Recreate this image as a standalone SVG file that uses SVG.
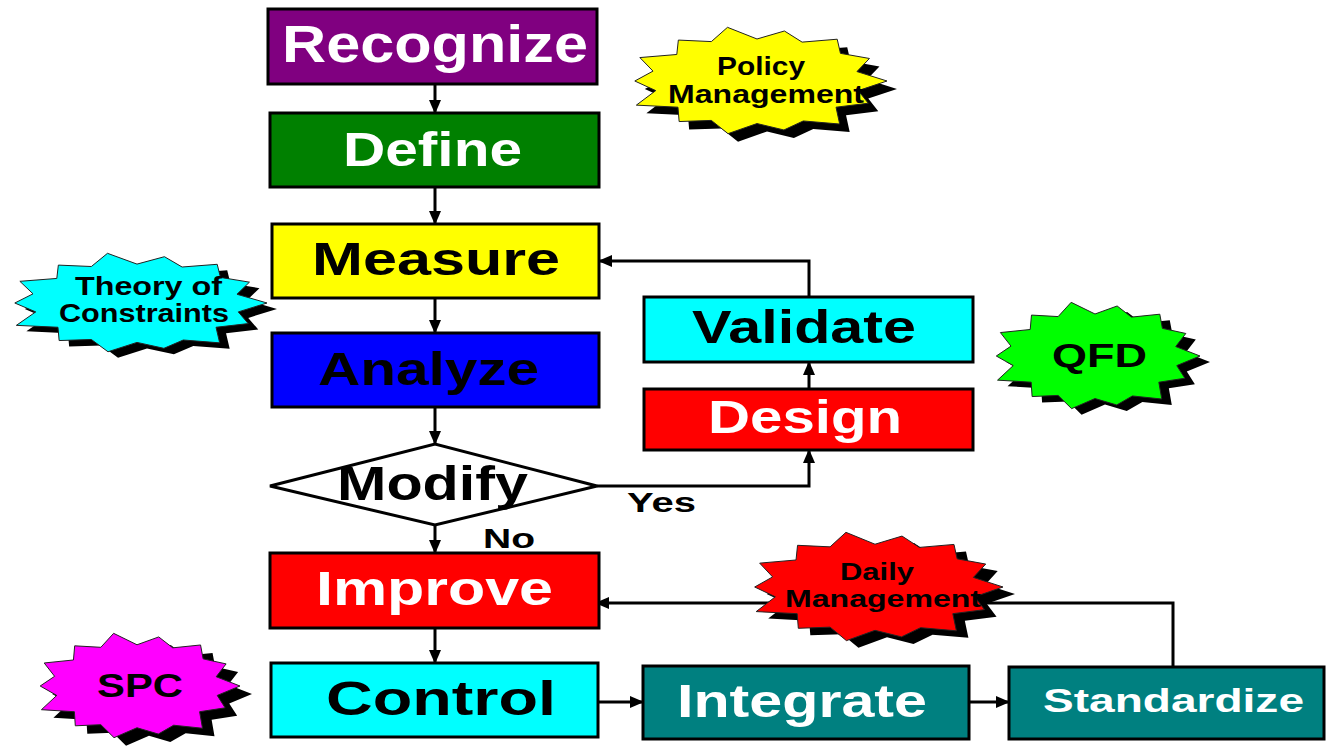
<svg xmlns="http://www.w3.org/2000/svg" xmlns:xlink="http://www.w3.org/1999/xlink" width="1326" height="749" viewBox="0 0 1326 749">
<style>
.box{stroke:#000;stroke-width:3}
.t{font-family:"Liberation Sans",Arial,sans-serif;font-weight:bold;text-anchor:middle}
.w{fill:#fff}
.k{fill:#000}
.conn{fill:none;stroke:#000;stroke-width:3}
.sh{fill:#000}
.bs{stroke:#222;stroke-width:1}
</style>
<defs>
<marker id="ah" markerUnits="userSpaceOnUse" markerWidth="14" markerHeight="12" refX="13" refY="6" orient="auto">
<path d="M0,0 L14,6 L0,12 z" fill="#000"/>
</marker>
<polygon id="burst" vector-effect="non-scaling-stroke" points="1,0 .779,.178 .856,.412 .608,.485 .636,.797 .356,.74 .207,.907 0,.788 -.223,.975 -.351,.73 -.599,.751 -.608,.485 -.928,.447 -.779,.178 -.94,0 -.8,-.183 -.901,-.434 -.617,-.491 -.605,-.758 -.351,-.73 -.227,-.994 0,-.778 .211,-.926 .347,-.72 .617,-.774 .642,-.512 .865,-.417 .769,-.175"/>
</defs>
<rect width="1326" height="749" fill="#fff"/>

<g id="connectors">
<path class="conn" d="M435,84 V113" marker-end="url(#ah)"/>
<path class="conn" d="M435,187 V224" marker-end="url(#ah)"/>
<path class="conn" d="M435,298 V333" marker-end="url(#ah)"/>
<path class="conn" d="M435,407 V444" marker-end="url(#ah)"/>
<path class="conn" d="M435,525 V553" marker-end="url(#ah)"/>
<path class="conn" d="M435,628 V663" marker-end="url(#ah)"/>
<path class="conn" d="M597,486 H809 V450" marker-end="url(#ah)"/>
<path class="conn" d="M809,389 V362" marker-end="url(#ah)"/>
<path class="conn" d="M809,297 V261 H599" marker-end="url(#ah)"/>
<path class="conn" d="M1173,667 V603 H596" marker-end="url(#ah)"/>
<path class="conn" d="M599,702 H643" marker-end="url(#ah)"/>
<path class="conn" d="M969,702 H1009" marker-end="url(#ah)"/>
<text class="t k" x="661.5" y="512" font-size="28" textLength="69" lengthAdjust="spacingAndGlyphs">Yes</text>
<text class="t k" x="509" y="548" font-size="27" textLength="52" lengthAdjust="spacingAndGlyphs">No</text>
</g>

<g id="recognize">
<rect class="box" x="268" y="9" width="329" height="75" fill="#800080"/>
<text class="t w" x="435" y="62" font-size="51" textLength="306" lengthAdjust="spacingAndGlyphs">Recognize</text>
</g>
<g id="define">
<rect class="box" x="270" y="113" width="329" height="74" fill="#008000"/>
<text class="t w" x="432.5" y="166" font-size="49" textLength="179" lengthAdjust="spacingAndGlyphs">Define</text>
</g>
<g id="measure">
<rect class="box" x="272" y="224" width="327" height="74" fill="#ffff00"/>
<text class="t k" x="436" y="275" font-size="47" textLength="248" lengthAdjust="spacingAndGlyphs">Measure</text>
</g>
<g id="analyze">
<rect class="box" x="272" y="333" width="327" height="74" fill="#0000ff"/>
<text class="t k" x="428.5" y="385" font-size="47" textLength="221" lengthAdjust="spacingAndGlyphs">Analyze</text>
</g>
<g id="modify">
<polygon class="box" points="270,486 435,444 597,486 435,525" fill="#fff"/>
<text class="t k" x="432.5" y="500" font-size="49" textLength="191" lengthAdjust="spacingAndGlyphs">Modify</text>
</g>
<g id="improve">
<rect class="box" x="270" y="553" width="329" height="75" fill="#ff0000"/>
<text class="t w" x="434.5" y="605" font-size="49" textLength="237" lengthAdjust="spacingAndGlyphs">Improve</text>
</g>
<g id="control">
<rect class="box" x="271" y="663" width="327" height="74" fill="#00ffff"/>
<text class="t k" x="441" y="715" font-size="49" textLength="230" lengthAdjust="spacingAndGlyphs">Control</text>
</g>
<g id="validate">
<rect class="box" x="644" y="297" width="329" height="65" fill="#00ffff"/>
<text class="t k" x="804" y="343" font-size="47" textLength="224" lengthAdjust="spacingAndGlyphs">Validate</text>
</g>
<g id="design">
<rect class="box" x="644" y="389" width="329" height="61" fill="#ff0000"/>
<text class="t w" x="805" y="433" font-size="47" textLength="194" lengthAdjust="spacingAndGlyphs">Design</text>
</g>
<g id="integrate">
<rect class="box" x="643" y="666" width="326" height="73" fill="#008080"/>
<text class="t w" x="802" y="717" font-size="47" textLength="250" lengthAdjust="spacingAndGlyphs">Integrate</text>
</g>
<g id="standardize">
<rect class="box" x="1009" y="667" width="315" height="72" fill="#008080"/>
<text class="t w" x="1173.5" y="712" font-size="34" textLength="261" lengthAdjust="spacingAndGlyphs">Standardize</text>
</g>

<g id="policy-management">
<use xlink:href="#burst" href="#burst" class="sh" transform="translate(767,89) scale(130,54)"/>
<use xlink:href="#burst" href="#burst" class="bs" fill="#ffff00" transform="translate(757,81) scale(130,54)"/>
<text class="t k" x="761" y="75" font-size="25" textLength="88" lengthAdjust="spacingAndGlyphs">Policy</text>
<text class="t k" x="766" y="103" font-size="25" textLength="196" lengthAdjust="spacingAndGlyphs">Management</text>
</g>
<g id="theory-of-constraints">
<use xlink:href="#burst" href="#burst" class="sh" transform="translate(147,309) scale(130,50)"/>
<use xlink:href="#burst" href="#burst" class="bs" fill="#00ffff" transform="translate(137,303) scale(130,50)"/>
<text class="t k" x="148.5" y="295" font-size="25" textLength="147" lengthAdjust="spacingAndGlyphs">Theory of</text>
<text class="t k" x="144" y="322" font-size="25" textLength="170" lengthAdjust="spacingAndGlyphs">Constraints</text>
</g>
<g id="qfd">
<use xlink:href="#burst" href="#burst" class="sh" transform="translate(1105,362) scale(105,54)"/>
<use xlink:href="#burst" href="#burst" class="bs" fill="#00ff00" transform="translate(1095,356) scale(105,54)"/>
<text class="t k" x="1099.5" y="367" font-size="34" textLength="95" lengthAdjust="spacingAndGlyphs">QFD</text>
</g>
<g id="daily-management">
<use xlink:href="#burst" href="#burst" class="sh" transform="translate(887,594) scale(128,55)"/>
<use xlink:href="#burst" href="#burst" class="bs" fill="#ff0000" transform="translate(875,587) scale(128,55)"/>
<text class="t k" x="877" y="580" font-size="24" textLength="74" lengthAdjust="spacingAndGlyphs">Daily</text>
<text class="t k" x="883" y="607" font-size="24" textLength="196" lengthAdjust="spacingAndGlyphs">Management</text>
</g>
<g id="spc">
<use xlink:href="#burst" href="#burst" class="sh" transform="translate(149,694) scale(103,53)"/>
<use xlink:href="#burst" href="#burst" class="bs" fill="#ff00ff" transform="translate(137,686) scale(103,53)"/>
<text class="t k" x="140" y="697" font-size="34" textLength="86" lengthAdjust="spacingAndGlyphs">SPC</text>
</g>
</svg>
